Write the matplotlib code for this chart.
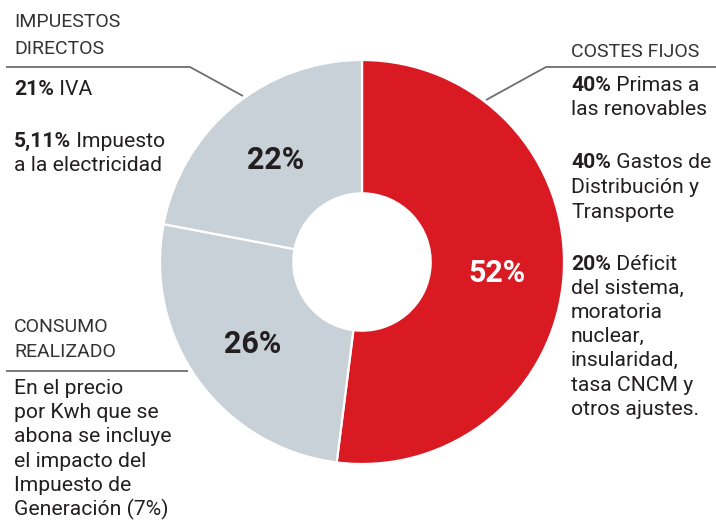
import matplotlib
matplotlib.use("Agg")
import matplotlib.pyplot as plt
import numpy as np

# ---- data ----
categories = ["COSTES FIJOS", "CONSUMO REALIZADO", "IMPUESTOS DIRECTOS"]
values = [52, 26, 22]
colors = ["#DA1A23", "#C8D0D8", "#C8D0D8"]
label_colors = ["white", "#231F20", "#231F20"]

FONT = "Roboto"
TXT = "#231F20"
HEAD = "#333333"
LINE = "#6D6E71"
FS = 15.2
FSH = 14.0

W, H = 716, 531
fig = plt.figure(figsize=(W / 100, H / 100), dpi=100)

# donut axes: centre (362, 262), radius 202 px
cx, cy, R = 362, 262, 202
axp = fig.add_axes([(cx - R) / W, (H - cy - R) / H, 2 * R / W, 2 * R / H])
wedges, _ = axp.pie(values, colors=colors, startangle=90, counterclock=False,
                    radius=1, wedgeprops=dict(width=0.66, edgecolor="white", linewidth=1.6))
axp.set_xlim(-1, 1)
axp.set_ylim(-1, 1)
axp.set_aspect("equal")
axp.axis("off")

ang = 90.0
for v, lc in zip(values, label_colors):
    span = v / sum(values) * 360
    mid = np.deg2rad(ang - span / 2)
    ang -= span
    axp.text(0.67 * np.cos(mid), 0.67 * np.sin(mid) - 0.01, f"{v}%", ha="center", va="center",
             fontsize=22, fontweight="bold", color=lc, family=FONT)

# overlay axes in pixel coordinates
ax = fig.add_axes([0, 0, 1, 1], zorder=5)
ax.set_xlim(0, W)
ax.set_ylim(H, 0)
ax.axis("off")
ax.patch.set_alpha(0)

renderer = fig.canvas.get_renderer()

def line(x, y, bold="", rest="", color=TXT, size=FS):
    xx = x
    if bold:
        t = ax.text(xx, y, bold, fontsize=size, fontweight="bold", color=TXT, family=FONT, va="baseline")
        bb = t.get_window_extent(renderer)
        xx += bb.width
        rest = " " + rest
    if rest:
        ax.text(xx, y, rest, fontsize=size, color=color, family=FONT, va="baseline")

# top-left block
line(14, 27, rest="IMPUESTOS", color=HEAD, size=FSH)
line(14, 54, rest="DIRECTOS", color=HEAD, size=FSH)
line(14, 95, "21%", "IVA")
line(14, 147, "5,11%", "Impuesto")
line(14, 171, rest="a la electricidad")
ax.plot([6, 190, 243], [67, 67, 96], color=LINE, lw=1.3, solid_capstyle="butt")

# right block
line(571, 57, rest="COSTES FIJOS", color=HEAD, size=FSH)
ax.plot([716, 546, 486], [67, 67, 100], color=LINE, lw=1.3, solid_capstyle="butt")
rx = 571
line(rx, 91, "40%", "Primas a")
line(rx, 115, rest="las renovables")
line(rx, 168, "40%", "Gastos de")
line(rx, 193, rest="Distribución y")
line(rx, 218, rest="Transporte")
line(rx, 270, "20%", "Déficit")
ys = [294, 318, 342, 366, 391, 415]
for yy, s in zip(ys, ["del sistema,", "moratoria", "nuclear,", "insularidad,", "tasa CNCM y", "otros ajustes."]):
    line(rx, yy, rest=s)

# bottom-left block
line(14, 332, rest="CONSUMO", color=HEAD, size=FSH)
line(14, 357, rest="REALIZADO", color=HEAD, size=FSH)
ax.plot([6, 188], [371, 371], color=LINE, lw=1.3, solid_capstyle="butt")
for yy, s in zip([394, 418, 442, 467, 491, 515],
                 ["En el precio", "por Kwh que se", "abona se incluye", "el impacto del",
                  "Impuesto de", "Generación (7%)"]):
    line(14, yy, rest=s)

fig.savefig("out.png", dpi=100, facecolor="white")
